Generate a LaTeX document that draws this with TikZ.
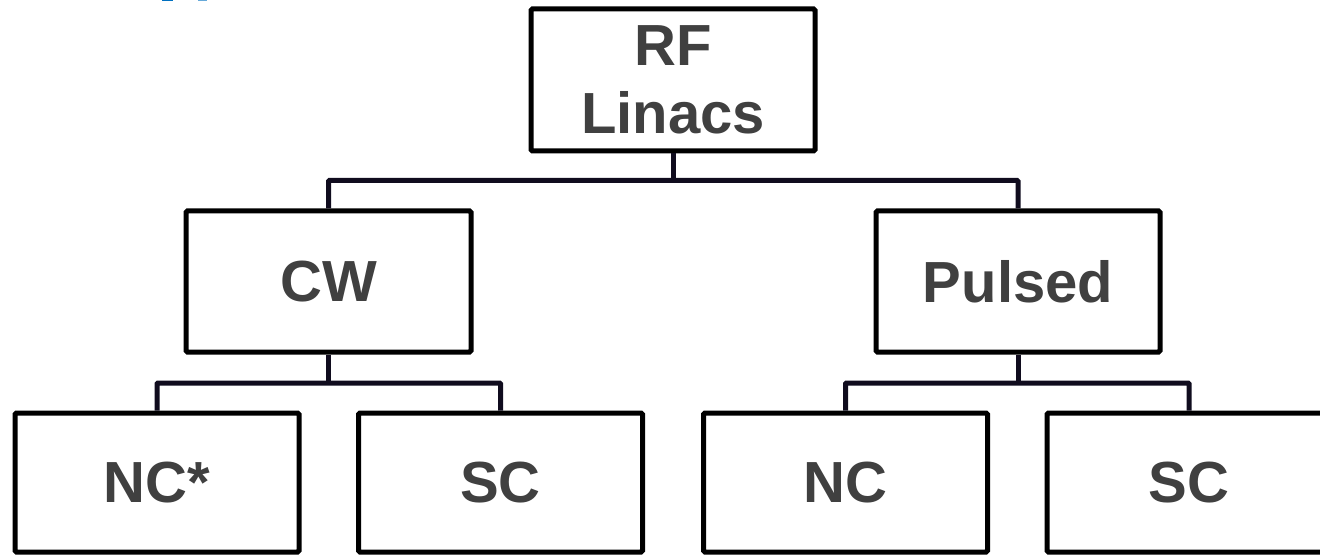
\documentclass[tikz,border=0pt]{standalone}
\usepackage{fontspec}
\setmainfont{Liberation Sans}
\definecolor{txtgray}{RGB}{64,64,64}
\definecolor{linkcol}{RGB}{16,12,30}
\definecolor{titleblue}{RGB}{0,112,192}
\begin{document}
\begin{tikzpicture}[x=1pt,y=-1pt,
  box/.style={draw=black, line width=5pt, rounded corners=1.5pt, fill=white,
    inner sep=0pt, text=txtgray, font=\fontsize{58}{68}\selectfont\bfseries,
    align=center},
  wide/.style={minimum width=284pt},
  link/.style={draw=linkcol, line width=5pt, rounded corners=1pt}]
\useasboundingbox (0,0) rectangle (1320,556);
\clip (0,0) rectangle (1320,556);
\fill[titleblue] (162,0) rectangle (173,1.5);
\fill[titleblue!60] (198,0) rectangle (207,1);
% nodes
\node[box, wide, minimum height=142pt] (rf) at (673,80) {RF\\Linacs};
\node[box, minimum width=285pt, minimum height=141pt] (cw) at (328.5,281.5) {CW};
\node[box, wide, minimum height=141pt] (pulsed) at (1018,281.5) {Pulsed};
\node[box, wide, minimum height=139pt] (nc1) at (157,482.5) {NC*};
\node[box, wide, minimum height=139pt] (sc1) at (500.5,482.5) {SC};
\node[box, wide, minimum height=139pt] (nc2) at (845.5,482.5) {NC};
\node[box, wide, minimum height=139pt] (sc2) at (1189,482.5) {SC};
% junctions
\coordinate (j1) at (673,180.5);
\coordinate (j2) at (328.5,383);
\coordinate (j3) at (1018,383);
% connectors
\draw[link] (rf.south) -- (j1);
\draw[link] (cw.north) |- (j1) -| (pulsed.north);
\draw[link] (cw.south) -- (j2);
\draw[link] (nc1.north) |- (j2) -| (sc1.north);
\draw[link] (pulsed.south) -- (j3);
\draw[link] (nc2.north) |- (j3) -| (sc2.north);
\end{tikzpicture}
\end{document}
